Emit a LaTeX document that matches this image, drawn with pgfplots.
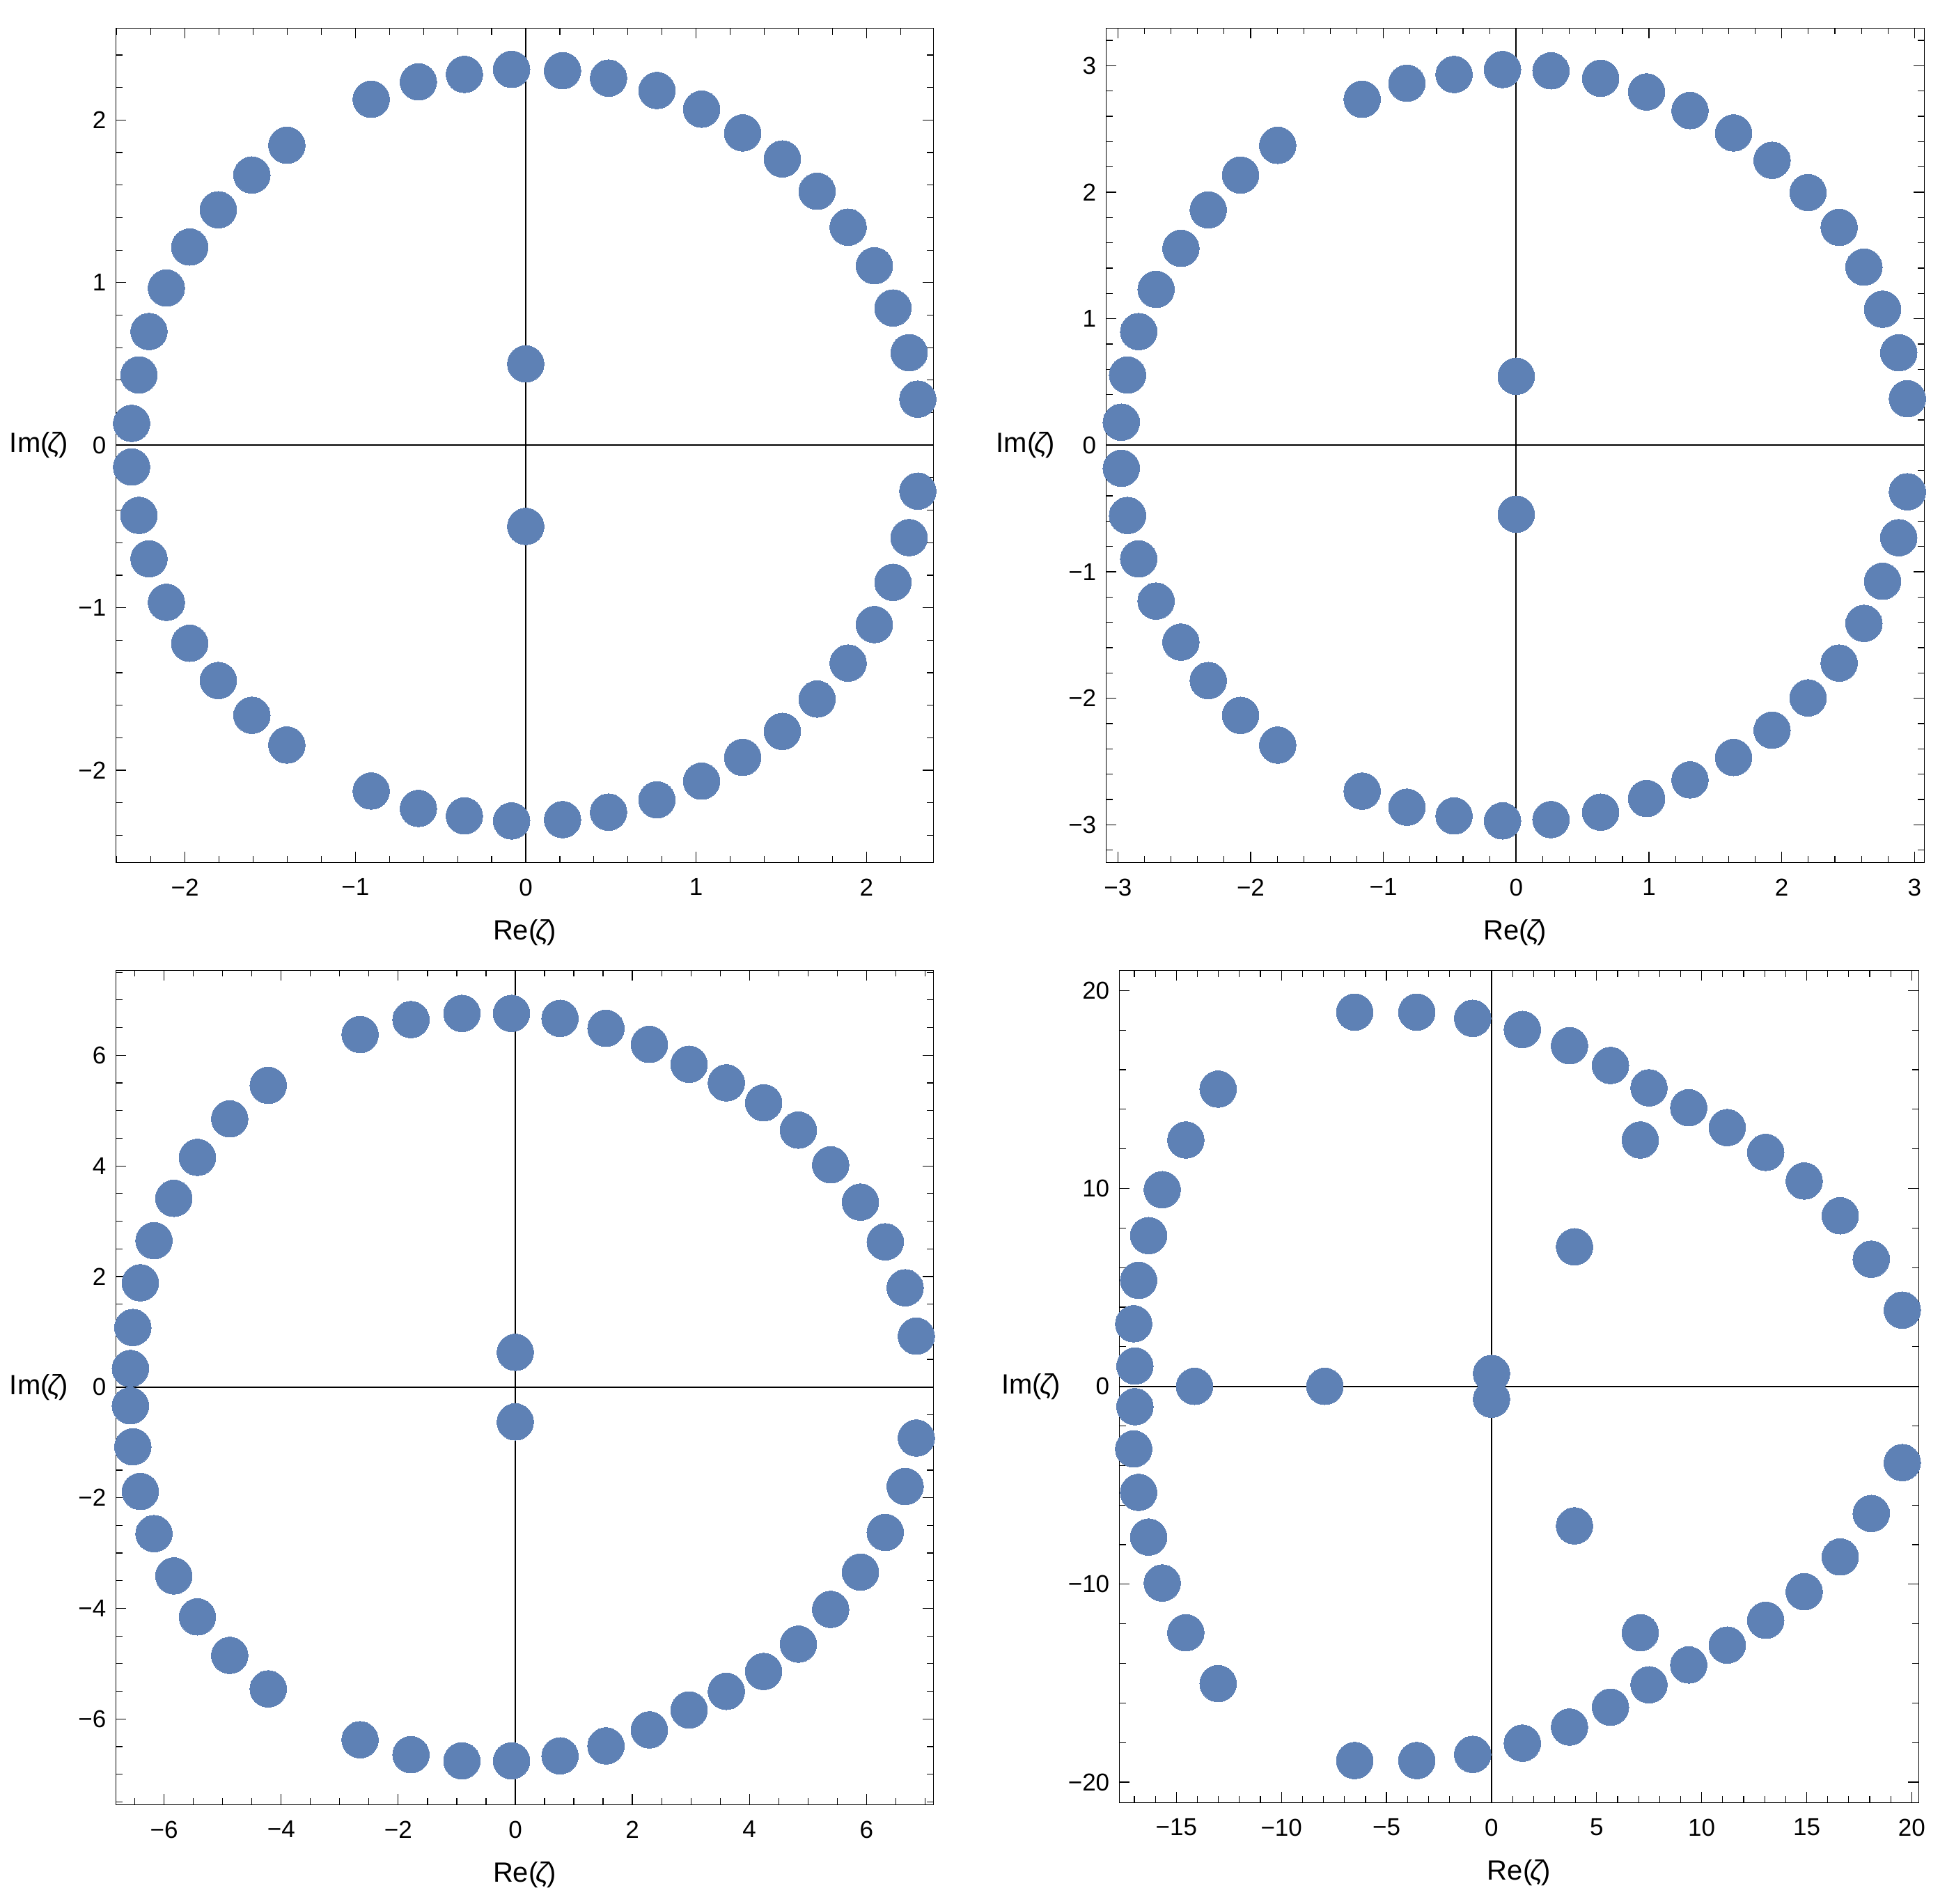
\documentclass[border=0pt]{standalone}
\usepackage{fontspec}
\setmainfont{Liberation Sans}
\usepackage{pgfplots}
\pgfplotsset{compat=1.18}
\definecolor{mmablue}{RGB}{94,129,181}

% 1 px of the reference = 0.25pt
\newcommand{\zet}{\kern-0.07em{\itshape ζ}\kern-0.07em}
\pgfplotsset{
  zetaplane/.style={
    scale only axis,
    tick align=inside, xtick pos=both, ytick pos=both,
    major tick length=3.75pt, minor tick length=2.3pt,
    every tick/.append style={black, line width=0.3pt},
    axis line style={black, line width=0.3pt},
    tick label style={font=\fontsize{8.75}{10.5}\selectfont},
    xticklabel style={yshift=-2.3pt},
    xlabel={Re(\zet)}, ylabel={Im(\zet)},
    label style={font=\fontsize{8.1}{10}\selectfont, inner sep=0pt},
    every axis x label/.style={at={(axis description cs:0.5,0)}, anchor=center, yshift=-25.3pt},
    every axis y label/.style={at={(axis description cs:0,0.5)}, anchor=east, xshift=-13.6pt},
  },
  dots/.style={only marks, mark=*, mark size=6.58pt,
    mark options={draw=mmablue, fill=mmablue, line width=0pt}},
}
\tikzset{zaxes/.style={black, line width=0.5pt}}

\begin{document}
\begin{tikzpicture}
\path[use as bounding box] (0,0) rectangle (699pt,-683.25pt);

% ---- top left
\begin{axis}[zetaplane, at={(41.625pt,-309.575pt)}, anchor=south west,
  width=293.45pt, height=299.5pt,
  xmin=-2.405, xmax=2.392, ymin=-2.567, ymax=2.566,
  xtick={-2,-1,0,1,2}, xticklabels={−2,−1,0,1,2},
  ytick={-2,-1,0,1,2}, yticklabels={−2,−1,0,1,2},
  minor xtick={-2.4,-2.2,...,2.4}, minor ytick={-2.4,-2.2,...,2.4}]
\draw[zaxes] (axis cs:0,-2.567) -- (axis cs:0,2.566);
\draw[zaxes] (axis cs:-2.405,0) -- (axis cs:2.392,0);
\addplot[dots] coordinates {
  (-0.907,2.128) (-0.630,2.235) (-0.360,2.281) (-0.083,2.312) (0.216,2.304)
  (0.486,2.258) (0.770,2.182) (1.032,2.067) (1.273,1.921) (1.506,1.761)
  (1.710,1.562) (1.892,1.341) (2.046,1.104) (2.155,0.844) (2.250,0.569) (2.301,0.283)
  (-1.402,1.845) (-1.607,1.662) (-1.804,1.448) (-1.972,1.219) (-2.109,0.967)
  (-2.211,0.699) (-2.270,0.432) (-2.313,0.134)
  (0,0.50) (0,-0.50)
  (-0.907,-2.128) (-0.630,-2.235) (-0.360,-2.281) (-0.083,-2.312) (0.216,-2.304)
  (0.486,-2.258) (0.770,-2.182) (1.032,-2.067) (1.273,-1.921) (1.506,-1.761)
  (1.710,-1.562) (1.892,-1.341) (2.046,-1.104) (2.155,-0.844) (2.250,-0.569) (2.301,-0.283)
  (-1.402,-1.845) (-1.607,-1.662) (-1.804,-1.448) (-1.972,-1.219) (-2.109,-0.967)
  (-2.211,-0.699) (-2.270,-0.432) (-2.313,-0.134)
};
\end{axis}

% ---- top right
\begin{axis}[zetaplane, at={(397.075pt,-309.575pt)}, anchor=south west,
  width=293.75pt, height=299.5pt,
  xmin=-3.089, xmax=3.073, ymin=-3.297, ymax=3.297,
  xtick={-3,-2,-1,0,1,2,3}, xticklabels={−3,−2,−1,0,1,2,3},
  ytick={-3,-2,-1,0,1,2,3}, yticklabels={−3,−2,−1,0,1,2,3},
  minor xtick={-3,-2.8,...,3}, minor ytick={-3.2,-3,...,3.2},
  every axis y label/.append style={xshift=-1.3pt}]
\draw[zaxes] (axis cs:0,-3.297) -- (axis cs:0,3.297);
\draw[zaxes] (axis cs:-3.089,0) -- (axis cs:3.073,0);
\addplot[dots] coordinates {
  (-1.160,2.734) (-0.823,2.861) (-0.468,2.930) (-0.103,2.969) (0.262,2.959)
  (0.636,2.900) (0.982,2.792) (1.309,2.645) (1.637,2.468) (1.927,2.252)
  (2.198,1.997) (2.432,1.722) (2.619,1.408) (2.759,1.075) (2.881,0.731) (2.946,0.368)
  (-1.796,2.370) (-2.076,2.135) (-2.319,1.860) (-2.525,1.556) (-2.712,1.232)
  (-2.843,0.898) (-2.927,0.555) (-2.974,0.182)
  (0,0.545) (0,-0.545)
  (-1.160,-2.734) (-0.823,-2.861) (-0.468,-2.930) (-0.103,-2.969) (0.262,-2.959)
  (0.636,-2.900) (0.982,-2.792) (1.309,-2.645) (1.637,-2.468) (1.927,-2.252)
  (2.198,-1.997) (2.432,-1.722) (2.619,-1.408) (2.759,-1.075) (2.881,-0.731) (2.946,-0.368)
  (-1.796,-2.370) (-2.076,-2.135) (-2.319,-1.860) (-2.525,-1.556) (-2.712,-1.232)
  (-2.843,-0.898) (-2.927,-0.555) (-2.974,-0.182)
};
\end{axis}

% ---- bottom left
\begin{axis}[zetaplane, at={(41.625pt,-647.825pt)}, anchor=south west,
  width=293.45pt, height=299.5pt,
  xmin=-6.823, xmax=7.142, ymin=-7.549, ymax=7.536,
  xtick={-6,-4,-2,0,2,4,6}, xticklabels={−6,−4,−2,0,2,4,6},
  ytick={-6,-4,-2,0,2,4,6}, yticklabels={−6,−4,−2,0,2,4,6},
  minor xtick={-6.5,-6,...,7}, minor ytick={-7.5,-7,...,7.5}]
\draw[zaxes] (axis cs:0,-7.549) -- (axis cs:0,7.536);
\draw[zaxes] (axis cs:-6.823,0) -- (axis cs:7.142,0);
\addplot[dots] coordinates {
  (-2.652,6.376) (-1.782,6.645) (-0.912,6.757) (-0.064,6.757) (0.764,6.667)
  (1.549,6.487) (2.291,6.197) (2.970,5.837) (3.606,5.501) (4.243,5.141)
  (4.837,4.647) (5.388,4.019) (5.897,3.345) (6.321,2.627) (6.661,1.796) (6.852,0.921)
  (-4.221,5.456) (-4.879,4.850) (-5.431,4.154) (-5.834,3.413) (-6.173,2.649)
  (-6.406,1.886) (-6.534,1.078) (-6.576,0.337)
  (0,0.629) (0,-0.629)
  (-2.652,-6.376) (-1.782,-6.645) (-0.912,-6.757) (-0.064,-6.757) (0.764,-6.667)
  (1.549,-6.487) (2.291,-6.197) (2.970,-5.837) (3.606,-5.501) (4.243,-5.141)
  (4.837,-4.647) (5.388,-4.019) (5.897,-3.345) (6.321,-2.627) (6.661,-1.796) (6.852,-0.921)
  (-4.221,-5.456) (-4.879,-4.850) (-5.431,-4.154) (-5.834,-3.413) (-6.173,-2.649)
  (-6.406,-1.886) (-6.534,-1.078) (-6.576,-0.337)
};
\end{axis}

% ---- bottom right
\begin{axis}[zetaplane, at={(401.825pt,-647.075pt)}, anchor=south west,
  width=287pt, height=298.75pt,
  xmin=-17.72, xmax=20.33, ymin=-21.03, ymax=21.02,
  xtick={-15,-10,-5,0,5,10,15,20}, xticklabels={−15,−10,−5,0,5,10,15,20},
  ytick={-20,-10,0,10,20}, yticklabels={−20,−10,0,10,20},
  minor xtick={-17,-16,...,20}, minor ytick={-20,-18,...,20},
  every axis y label/.append style={xshift=-4.1pt}]
\draw[zaxes] (axis cs:0,-21.03) -- (axis cs:0,21.02);
\draw[zaxes] (axis cs:-17.72,0) -- (axis cs:20.33,0);
\addplot[dots] coordinates {
  (-6.513,18.908) (-3.558,18.908) (-0.898,18.595) (1.466,18.030) (3.712,17.215)
  (5.662,16.211) (7.494,15.082) (9.385,14.078) (11.217,13.074) (13.050,11.819)
  (14.882,10.376) (16.596,8.620) (18.073,6.424) (19.551,3.852)
  (-13.014,15.019) (-14.551,12.447) (-15.674,9.937) (-16.324,7.616) (-16.797,5.358)
  (-17.033,3.162) (-16.974,1.029)
  (3.948,7.051) (7.080,12.447)
  (-14.137,0) (-7.931,0) (0,0.65) (0,-0.65)
  (-6.513,-18.908) (-3.558,-18.908) (-0.898,-18.595) (1.466,-18.030) (3.712,-17.215)
  (5.662,-16.211) (7.494,-15.082) (9.385,-14.078) (11.217,-13.074) (13.050,-11.819)
  (14.882,-10.376) (16.596,-8.620) (18.073,-6.424) (19.551,-3.852)
  (-13.014,-15.019) (-14.551,-12.447) (-15.674,-9.937) (-16.324,-7.616) (-16.797,-5.358)
  (-17.033,-3.162) (-16.974,-1.029)
  (3.948,-7.051) (7.080,-12.447)
};
\end{axis}
\end{tikzpicture}
\end{document}
